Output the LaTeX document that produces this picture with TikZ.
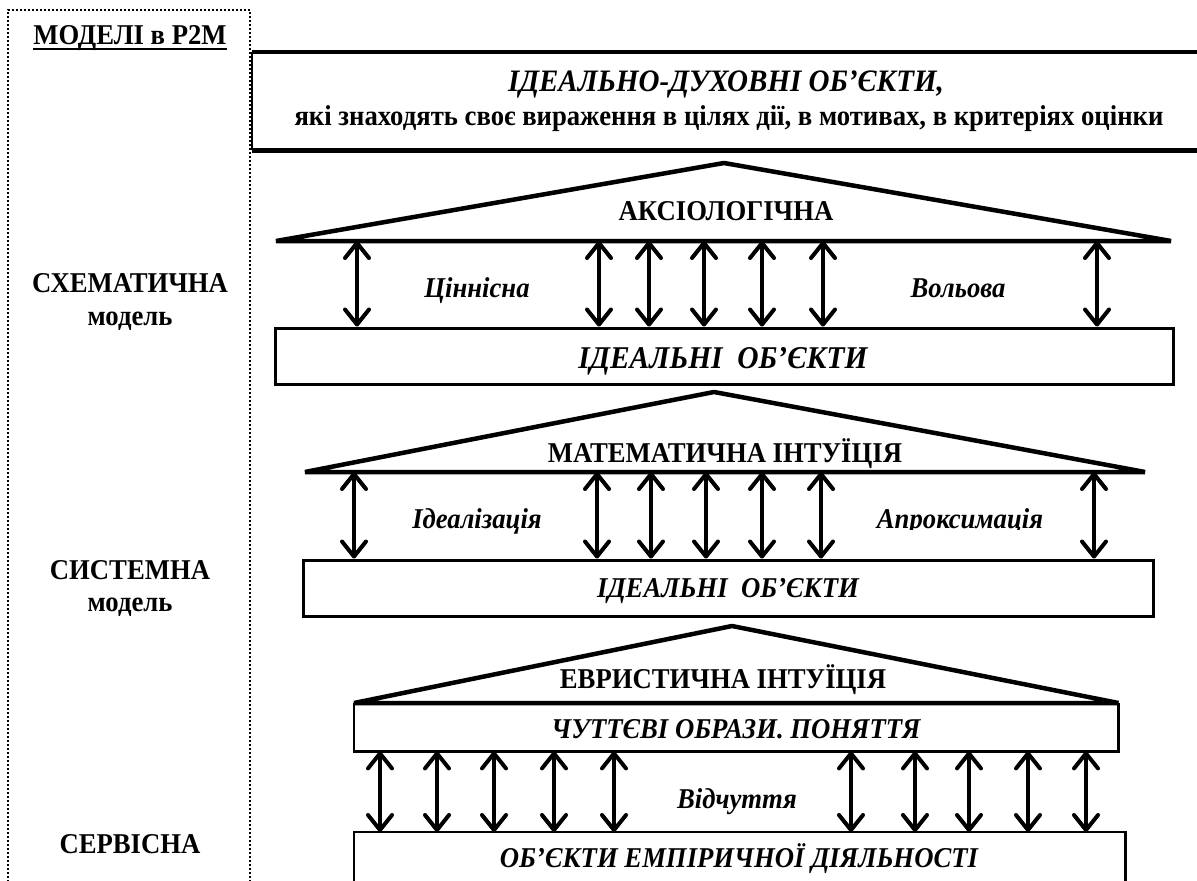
\documentclass[tikz,border=0pt]{standalone}
\usepackage{fontspec}
\setmainfont{Liberation Serif}
\usetikzlibrary{arrows.meta}
\tikzset{
  lbl/.style={font=\fontsize{28.7}{30}\selectfont\bfseries, inner sep=0pt, anchor=base, xscale=0.93, transform shape},
  ilbl/.style={font=\fontsize{28.7}{30}\selectfont\bfseries\itshape, inner sep=0pt, anchor=base, xscale=0.93, transform shape},
  roof/.style={line width=4.5pt, line join=bevel},
  boxx/.style={draw, line width=3pt, inner sep=0pt},
  dbl/.style={line width=4pt, {Straight Barb[length=15pt,width=24pt,round]}-{Straight Barb[length=15pt,width=24pt,round]}},
  dots/.style={line width=1.6pt, dash pattern=on 1.6pt off 2.4pt}
}
\begin{document}
\begin{tikzpicture}[x=1pt,y=-1pt]
\useasboundingbox (0,0) rectangle (1197,881);
\clip (0,0) rectangle (1197,881);
\fill[white] (0,0) rectangle (1197,881);
% left dotted panel
\draw[dots] (8,890) -- (8,10) -- (250,10) -- (250,890);
\node[lbl] (mod) at (130,44) {МОДЕЛІ в Р2М};
\draw[line width=2.5pt] ([yshift=-5pt]mod.base west) -- ([yshift=-5pt]mod.base east);
\node[lbl] (sch) at (130,292) {СХЕМАТИЧНА};
\node[lbl] (sch2) at (130,325) {модель};
\node[lbl] (sys) at (130,579) {СИСТЕМНА};
\node[lbl] (sys2) at (130,611) {модель};
\node[lbl] (ser) at (130,853) {СЕРВІСНА};
% top box
\node[minimum width=960pt, minimum height=98pt, anchor=north west, inner sep=0pt] (top) at (252,52) {};
\draw[line width=4.5pt] (top.north east) -- (top.north west);
\draw[line width=2.5pt] (top.north west) -- (top.south west);
\draw[line width=4.5pt] (top.south west) -- (top.south east);
\node[ilbl, font=\fontsize{31.2}{32}\selectfont\bfseries\itshape] (t1) at (726,91) {ІДЕАЛЬНО-ДУХОВНІ ОБ’ЄКТИ,};
\node[lbl] (t2) at (729,125) {які знаходять своє вираження в цілях дії, в мотивах, в критеріях оцінки};
% roof 1
\coordinate (r1l) at (276,241);
\coordinate (r1a) at (724,163);
\coordinate (r1r) at (1171,241);
\draw[roof] (r1l) -- (r1a) -- (r1r) -- cycle;
\node[lbl] (aks) at (726,220) {АКСІОЛОГІЧНА};
% box 2
\node[boxx, minimum width=898pt, minimum height=56pt] (io1) at (724,356) {};
\node[ilbl, font=\fontsize{31.7}{32}\selectfont\bfseries\itshape] (io1t) at (723,368) {ІДЕАЛЬНІ\ \ ОБ’ЄКТИ};
\foreach \x in {357,599,649,704,762,823,1097}
  \draw[dbl] (\x,0 |- r1l) -- (\x,0 |- io1.north);
\node[ilbl] (cin) at (477,297) {Ціннісна};
\node[ilbl] (vol) at (958,297) {Вольова};
% roof 2
\coordinate (r2l) at (305,472);
\coordinate (r2a) at (714,392);
\coordinate (r2r) at (1145,472);
\draw[roof] (r2l) -- (r2a) -- (r2r) -- cycle;
\node[lbl] (mat) at (725,462) {МАТЕМАТИЧНА ІНТУЇЦІЯ};
% box 3
\node[boxx, minimum width=850pt, minimum height=56pt] (io2) at (728,588) {};
\node[ilbl] (io2t) at (728,597) {ІДЕАЛЬНІ\ \ ОБ’ЄКТИ};
\foreach \x in {354,597,651,706,762,821,1094}
  \draw[dbl] (\x,0 |- r2l) -- (\x,0 |- io2.north);
\node[ilbl] (ide) at (477,528) {Ідеалізація};
\begin{scope}
\clip (850,495) rectangle (1070,529);
\node[ilbl] (apr) at (960,528) {Апроксимація};
\end{scope}
% roof 3 + box 4
\node[minimum width=764pt, minimum height=48pt, anchor=north west, inner sep=0pt] (cht) at (354,703) {};
\draw[line width=2.5pt] (cht.north east) -- (cht.south east) -- (cht.south west) -- (cht.north west);
\coordinate (r3a) at (732,626);
\draw[roof] (cht.north west) -- (r3a) -- (cht.north east) -- cycle;
\node[lbl] (evr) at (723,688) {ЕВРИСТИЧНА ІНТУЇЦІЯ};
\node[ilbl] (chtt) at (736,738) {ЧУТТЄВІ ОБРАЗИ. ПОНЯТТЯ};
% box 5
\node[minimum width=771pt, minimum height=80pt, anchor=north west, inner sep=0pt] (emp) at (354,832) {};
\draw[line width=2.5pt] (emp.south west) -- (emp.north west) -- (emp.north east) -- (emp.south east);
\node[ilbl] (empt) at (739,867) {ОБ’ЄКТИ ЕМПІРИЧНОЇ ДІЯЛЬНОСТІ};
\foreach \x in {380,437,494,554,614,851,915,969,1028,1086}
  \draw[dbl] (\x,0 |- cht.south) -- (\x,0 |- emp.north);
\node[ilbl] (vid) at (737,808) {Відчуття};
\end{tikzpicture}
\end{document}
